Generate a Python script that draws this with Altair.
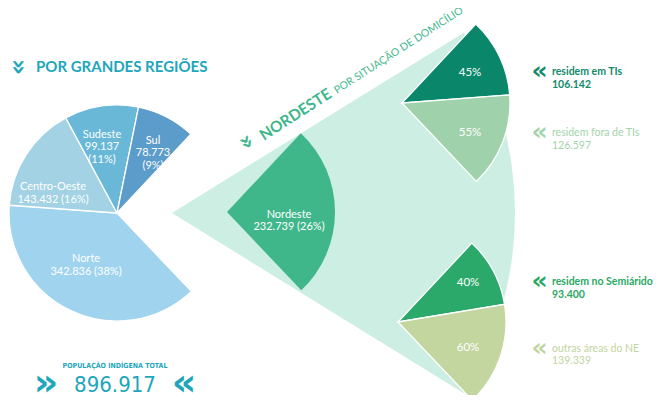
import math
import altair as alt
import pandas as pd

# ---------------- data ----------------
regioes = ["Nordeste", "Norte", "Centro-Oeste", "Sudeste", "Sul"]
populacao = [232739, 342836, 143432, 99137, 78773]
percentual = [26, 38, 16, 11, 9]

ti_grupos = ["residem em TIs", "residem fora de TIs"]
ti_valores = [106142, 126597]
ti_percentual = [45, 55]

semi_grupos = ["residem no Semiárido", "outras áreas do NE"]
semi_valores = [93400, 139339]
semi_percentual = [40, 60]

total = 896917

# ---------------- styles ----------------
cores_regioes = ["#3fb78b", "#a0d4ee", "#a3d2e4", "#69b8d7", "#5c9cca"]
ti_cores = ["#0a876a", "#9fd2aa"]
semi_cores = ["#2ba96a", "#c3d6a0"]
FUNIL = "#cdeee2"
TEAL = "#1ea6bc"
VERDE = "#3fb78b"
FONT = "Lato"
CHEV = "'DejaVu Sans', sans-serif"
COND = "'Liberation Sans Narrow', 'DejaVu Sans Condensed', Roboto, sans-serif"
R = 108
START = math.radians(43.1)


def fmt(v):
    return f"{v:,}".replace(",", ".")


def P(x, y):
    return x - 8, y - 8


theta_scale = alt.Scale(domain=[0, total], range=[START, START + 2 * math.pi])

df_reg = pd.DataFrame({"grupo": regioes, "valor": populacao, "ordem": range(5), "cor": cores_regioes})
df_ti = pd.DataFrame({"grupo": ti_grupos, "valor": ti_valores, "ordem": range(2), "cor": ti_cores})
df_semi = pd.DataFrame({"grupo": semi_grupos, "valor": semi_valores, "ordem": range(2), "cor": semi_cores})


def pie(df, center, filt=None, stroke=True):
    cx, cy = P(*center)
    base = alt.Chart(df).transform_stack(
        stack="valor", groupby=[], as_=["v0", "v1"], sort=[alt.SortField(field="ordem", order="ascending")]
    )
    if filt is not None:
        base = base.transform_filter(filt)
    mk = dict(radius=R)
    if stroke:
        mk.update(stroke="white", strokeWidth=1.3)
    return base.mark_arc(**mk).encode(
        x=alt.value(cx),
        y=alt.value(cy),
        theta=alt.Theta("v0:Q", scale=theta_scale, stack=None),
        theta2="v1:Q",
        color=alt.Color("cor:N", scale=None, legend=None),
    )


def txt(t, pos, size=11, color="white", weight="normal", align="center",
        baseline="middle", font=FONT, angle=None, lh=12.5):
    x, y = P(*pos)
    props = dict(fontSize=size, color=color, fontWeight=weight, align=align,
                 baseline=baseline, font=font, lineBreak="\n", lineHeight=lh)
    if angle is not None:
        props["angle"] = angle
    return alt.Chart(alt.Data(values=[{"t": t}])).mark_text(**props).encode(
        x=alt.value(x), y=alt.value(y), text="t:N"
    )


layers = []

# funnel background
fx, fy = P(172, 213)
layers.append(
    alt.Chart(alt.Data(values=[{"a": 1}])).mark_arc(
        theta=math.radians(58.3), theta2=math.radians(121.7), radius=343, color=FUNIL
    ).encode(x=alt.value(fx), y=alt.value(fy))
)

# main pie without Nordeste
layers.append(pie(df_reg, (117, 213), filt=alt.datum.grupo != "Nordeste"))
# Nordeste wedge pulled out
layers.append(pie(df_reg, (227, 212), filt=alt.datum.grupo == "Nordeste", stroke=False))
# sub pies
layers.append(pie(df_ti, (402, 103)))
layers.append(pie(df_semi, (398, 322)))

# region labels
lab = {r: f"{r}\n{fmt(v)} ({p}%)" for r, v, p in zip(regioes, populacao, percentual)}
lab["Sudeste"] = f"Sudeste\n{fmt(populacao[3])}\n({percentual[3]}%)"
lab["Sul"] = f"Sul\n{fmt(populacao[4])}\n({percentual[4]}%)"
label_pos = {"Nordeste": (289, 214.5), "Norte": (86, 259), "Centro-Oeste": (53, 187),
             "Sudeste": (102, 134.5), "Sul": (153, 140.5)}
for r in regioes:
    layers.append(txt(lab[r], label_pos[r], size=11, color="white"))

# percent labels
for p, pos in zip(ti_percentual + semi_percentual, [(470, 73), (470, 133), (468, 283), (468, 348)]):
    layers.append(txt(f"{p}%", pos, size=11.5, color="white"))

# right-side legends
grupos = ti_grupos + semi_grupos
valores = ti_valores + semi_valores
cores_txt = ["#138a6b", "#a3d3ab", "#2aa964", "#c2d5a0"]
pesos = ["bold", "normal", "bold", "normal"]
ys = [72, 133, 282, 348.5]
for g, v, c, w, y in zip(grupos, valores, cores_txt, pesos, ys):
    layers.append(txt("«", (539.5, y - 1), size=25, color=c, weight="bold", font=CHEV))
    layers.append(txt(f"{g}\n{fmt(v)}", (552, y), size=10.5, color=c, weight=w, align="left"))

# titles
layers.append(txt("»", (19, 67), size=25, color=TEAL, weight="bold", angle=90, font=CHEV))
layers.append(txt("POR GRANDES REGIÕES", (36, 67), size=15, color=TEAL, weight="bold", align="left"))

layers.append(txt("»", (247, 142), size=22, color=VERDE, weight="bold", angle=57, font=CHEV))
layers.append(txt("NORDESTE", (264, 141), size=15.5, color=VERDE, weight="bold", align="left",
                  baseline="alphabetic", angle=327.2))
layers.append(txt("POR SITUAÇÃO DE DOMICÍLIO", (337, 94), size=10.5, color=VERDE, align="left",
                  baseline="alphabetic", angle=327.2))

# total
layers.append(txt("POPULAÇÃO INDÍGENA TOTAL", (115, 366), size=7, color=TEAL, weight="bold", font=COND))
layers.append(txt(f"{fmt(total)}", (115, 385), size=22, color=TEAL, weight=300, font=COND))
layers.append(txt("»", (46, 384), size=38, color=TEAL, weight="bold", font=CHEV))
layers.append(txt("«", (184, 384), size=38, color=TEAL, weight="bold", font=CHEV))

chart = alt.layer(*layers).properties(
    width=647, height=387, padding=0,
    autosize=alt.AutoSizeParams(type="none"),
    background="white",
).configure_view(stroke=None)

chart.save("out.html", embed_options={"renderer": "svg", "actions": False})
